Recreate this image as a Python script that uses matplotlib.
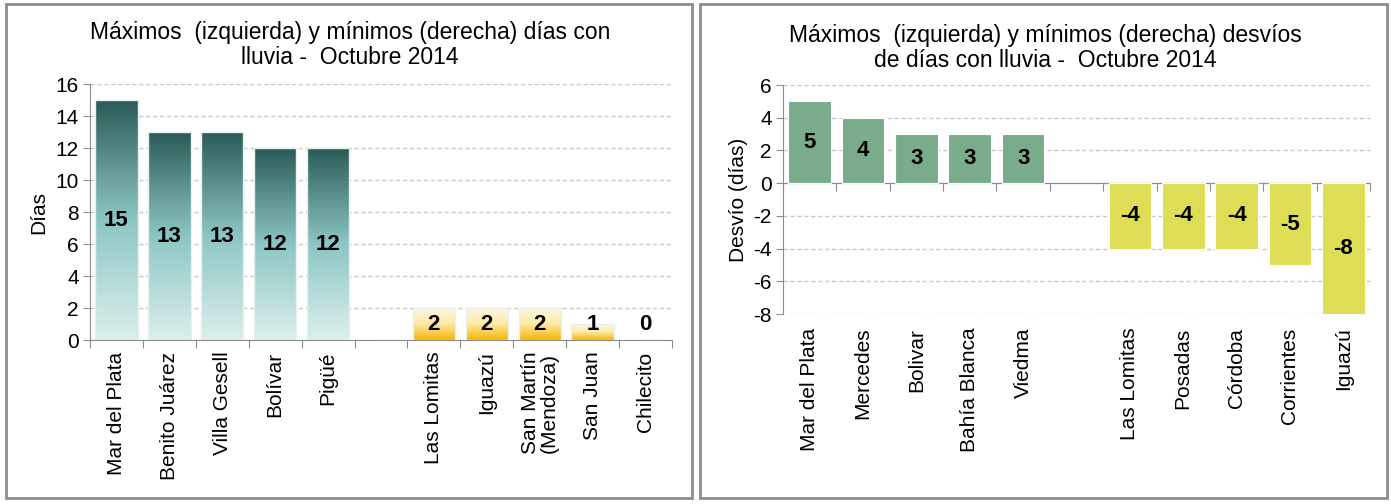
import numpy as np
import matplotlib
matplotlib.use("Agg")
import matplotlib.pyplot as plt
from matplotlib import font_manager
from matplotlib.colors import LinearSegmentedColormap
from matplotlib.patches import Rectangle
import matplotlib.transforms as mtransforms

plt.rcParams['font.family'] = ['Liberation Sans', 'DejaVu Sans']
plt.rcParams['axes.unicode_minus'] = False

# narrow face for titles and value labels, if it is installed
try:
    font_manager.findfont('Liberation Sans Narrow', fallback_to_default=False)
    NARROW = ['Liberation Sans Narrow', 'Liberation Sans']
    TITLE_SIZE = 17
except Exception:
    NARROW = ['Liberation Sans', 'DejaVu Sans']
    TITLE_SIZE = 16.5

# left panel: days with rain
max_names = ['Mar del Plata', 'Benito Juárez', 'Villa Gesell', 'Bolívar', 'Pigüé']
max_days = [15, 13, 13, 12, 12]
min_names = ['Las Lomitas', 'Iguazú', 'San Martín\n(Mendoza)', 'San Juan', 'Chilecito']
min_days = [2, 2, 2, 1, 0]

# right panel: deviation of days with rain
pos_names = ['Mar del Plata', 'Mercedes', 'Bolivar', 'Bahía Blanca', 'Viedma']
pos_dev = [5, 4, 3, 3, 3]
neg_names = ['Las Lomitas', 'Posadas', 'Córdoba', 'Corrientes', 'Iguazú']
neg_dev = [-4, -4, -4, -5, -8]

green_cmap = LinearSegmentedColormap.from_list('g', ['#dcefec', '#8cc6c4', '#2b5b56'])
gold_cmap = LinearSegmentedColormap.from_list('y', ['#f6b400', '#fde9a6', '#fff8e2'])

fig = plt.figure(figsize=(13.91, 5.04), dpi=100)

# panel frames
for x0, x1 in [(6, 692), (700, 1387)]:
    fig.patches.append(Rectangle((x0 / 1391, 6 / 504), (x1 - x0) / 1391, 494 / 504,
                                 transform=fig.transFigure, fill=False,
                                 edgecolor='#8c8c8c', lw=2))


def style_axes(ax):
    for s in ['top', 'right']:
        ax.spines[s].set_visible(False)
    ax.spines['left'].set_color('#8c8c8c')
    ax.spines['bottom'].set_color('#8c8c8c')
    ax.tick_params(axis='y', colors='#8c8c8c', labelcolor='black', labelsize=15,
                   length=5, direction='out', pad=3)
    ax.tick_params(axis='x', colors='#8c8c8c', length=6, direction='out', labelbottom=False)
    ax.grid(axis='y', ls=(0, (3, 2)), color='#c8c8c8', lw=1)
    ax.set_axisbelow(True)


def cat_labels(ax, names, xs, y_axes):
    trans = mtransforms.blended_transform_factory(ax.transData, ax.transAxes)
    for x, n in zip(xs, names):
        ax.text(x, y_axes, n, transform=trans, rotation=90, ha='center', va='top',
                fontsize=15, linespacing=1.0)


# ---------- left panel ----------
ax = fig.add_axes([90 / 1391, 1 - 340 / 504, 582 / 1391, 256 / 504])
style_axes(ax)
names = max_names + [''] + min_names
vals = max_days + [np.nan] + min_days
xs = np.arange(len(names))
grad = np.linspace(0, 1, 256).reshape(-1, 1)
for i, v in enumerate(vals):
    if np.isnan(v) or v == 0:
        continue
    cmap = green_cmap if i < 5 else gold_cmap
    b = ax.bar(xs[i], v, width=0.8, color='none', edgecolor='#e8f0ef', lw=1, zorder=3)[0]
    im = ax.imshow(grad, extent=[xs[i] - 0.4, xs[i] + 0.4, 0, v], origin='lower',
                   aspect='auto', cmap=cmap, zorder=2)
    im.set_clip_path(b)
for i, v in enumerate(vals):
    if np.isnan(v):
        continue
    ax.text(xs[i], max(v / 2, 1), f'{int(v)}', ha='center', va='center',
            fontsize=16, fontweight='bold', family=NARROW, zorder=5)
ax.set_xlim(-0.5, len(names) - 0.5)
ax.set_ylim(0, 16)
ax.set_yticks(np.arange(0, 17, 2))
ax.set_xticks(np.arange(-0.5, len(names), 1))
ax.set_ylabel('Días', fontsize=15, labelpad=5)
cat_labels(ax, names, xs, -0.045)
fig.text(350 / 1391, 1 - 45 / 504,
         'Máximos  (izquierda) y mínimos (derecha) días con\nlluvia -  Octubre 2014',
         ha='center', va='center', fontsize=TITLE_SIZE, family=NARROW, linespacing=1.1)

# ---------- right panel ----------
ax = fig.add_axes([783 / 1391, 1 - 314 / 504, 587 / 1391, 229 / 504])
style_axes(ax)
names = pos_names + [''] + neg_names
vals = pos_dev + [np.nan] + neg_dev
xs = np.arange(len(names))
for i, v in enumerate(vals):
    if np.isnan(v):
        continue
    c = '#7aac8b' if v > 0 else '#dede56'
    ax.bar(xs[i], v, width=0.8, color=c, edgecolor='white', lw=0.8, zorder=3)
    ax.text(xs[i], v / 2, f'{int(v)}', ha='center', va='center',
            fontsize=16, fontweight='bold', family=NARROW, zorder=5)
ax.spines['bottom'].set_position(('data', 0))
ax.set_xlim(-0.5, len(names) - 0.5)
ax.set_ylim(-8, 6)
ax.set_yticks(np.arange(-8, 7, 2))
ax.set_xticks(np.arange(-0.5, len(names), 1))
ax.set_ylabel('Desvío (días)', fontsize=15, labelpad=4)
cat_labels(ax, names, xs, -0.06)
fig.text(1045 / 1391, 1 - 48 / 504,
         'Máximos  (izquierda) y mínimos (derecha) desvíos\nde días con lluvia -  Octubre 2014',
         ha='center', va='center', fontsize=TITLE_SIZE, family=NARROW, linespacing=1.1)

fig.savefig('out.png', dpi=100)
